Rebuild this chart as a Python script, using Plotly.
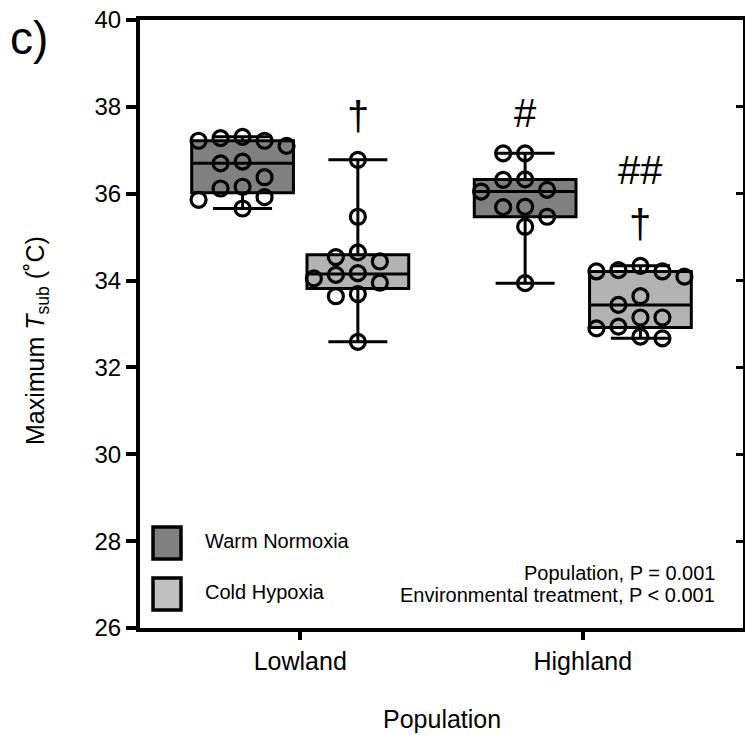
import numpy as np
import plotly.graph_objects as go

# Populations on the x axis and the two environmental treatments
populations = ["Lowland", "Highland"]
treatments = ["Warm Normoxia", "Cold Hypoxia"]

# Maximum Tsub (°C) per individual
lowland_warm = [37.22, 37.28, 37.10, 37.22, 37.31, 36.70, 36.74, 36.38,
                36.12, 36.16, 35.92, 35.86, 35.66]
lowland_cold = [36.78, 35.47, 34.65, 34.44, 34.54, 34.17, 34.13, 33.95,
                34.05, 33.69, 33.64, 32.59]
highland_warm = [36.93, 36.93, 36.32, 36.33, 36.09, 36.05, 35.70, 35.69,
                 35.47, 35.24, 33.94]
highland_cold = [34.21, 34.24, 34.09, 34.21, 34.34, 33.64, 33.44, 33.15,
                 33.15, 32.90, 32.94, 32.71, 32.67]

y_ticks = [26, 28, 30, 32, 34, 36, 38, 40]

# Significance markers: (population index, treatment index, symbol, y)
sig_marks = [(0, 1, "†", 37.80), (1, 0, "#", 37.85),
             (1, 1, "##", 36.55), (1, 1, "†", 35.30)]

stats_lines = ["Population, P = 0.001",
               "Environmental treatment, P &lt; 0.001"]

fill_colors = {"Warm Normoxia": "#808080", "Cold Hypoxia": "#b3b3b3"}
legend_colors = {"Warm Normoxia": "#808080", "Cold Hypoxia": "#c0c0c0"}

FONT = "Liberation Sans, Arial, sans-serif"
W, H = 746, 735
M_L, M_R, M_T, M_B = 140, 3, 20, 107
X_RANGE = [-0.567, 1.567]
Y_RANGE = [26, 40]
plot_w = W - M_L - M_R
plot_h = H - M_T - M_B
px_per_x = plot_w / (X_RANGE[1] - X_RANGE[0])
px_per_y = plot_h / (Y_RANGE[1] - Y_RANGE[0])

GROUP_OFFSET = 0.204   # treatment offset from the population tick
BOX_WIDTH = 0.36


def px_x(px):
    """Horizontal pixel position -> paper coordinate."""
    return (px - M_L) / plot_w


def px_y(px):
    """Vertical pixel position (from top) -> paper coordinate."""
    return (H - M_B - px) / plot_h


def swarm_offsets(values, step_px=22.0, min_px=17.0):
    """Column-based dot layout so that circles do not overlap."""
    vals = np.asarray(values, dtype=float)
    order = np.argsort(-vals, kind="stable")
    placed = []
    offs = np.zeros(len(vals))
    for i in order:
        v = vals[i]
        chosen = 0
        for cand in [0, -1, 1, -2, 2, -3, 3, -4, 4]:
            ok = all(((cand - c) * step_px) ** 2 + ((v - w) * px_per_y) ** 2
                     >= min_px ** 2 for c, w in placed)
            if ok:
                chosen = cand
                break
        placed.append((chosen, v))
        offs[i] = chosen * step_px / px_per_x
    return offs


groups = {
    (0, 0): lowland_warm,
    (0, 1): lowland_cold,
    (1, 0): highland_warm,
    (1, 1): highland_cold,
}

fig = go.Figure()

for (p, t), vals in groups.items():
    xc = p + (-GROUP_OFFSET if t == 0 else GROUP_OFFSET)
    name = treatments[t]
    fig.add_trace(go.Box(
        y=vals, x=[xc] * len(vals), width=BOX_WIDTH,
        boxpoints=False, quartilemethod="exclusive",
        fillcolor=fill_colors[name],
        line=dict(color="black", width=3),
        whiskerwidth=0.58, showlegend=False, hoverinfo="skip",
    ))

for (p, t), vals in groups.items():
    xc = p + (-GROUP_OFFSET if t == 0 else GROUP_OFFSET)
    offs = swarm_offsets(vals)
    fig.add_trace(go.Scatter(
        x=xc + offs, y=vals, mode="markers",
        marker=dict(symbol="circle-open", size=15, color="black",
                    line=dict(width=3.2, color="black")),
        showlegend=False, hoverinfo="skip",
    ))

# Empty trace so the right-hand axis is drawn
fig.add_trace(go.Scatter(x=[], y=[], yaxis="y2", showlegend=False))

annotations = []
for p, t, sym, yv in sig_marks:
    xc = p + (-GROUP_OFFSET if t == 0 else GROUP_OFFSET)
    annotations.append(dict(x=xc, y=yv, xref="x", yref="y", text=sym,
                            showarrow=False, xanchor="center",
                            yanchor="middle",
                            font=dict(family=FONT, size=40, color="black")))

annotations += [
    dict(text="c)", xref="paper", yref="paper", x=px_x(29), y=px_y(38),
         xanchor="center", yanchor="middle", showarrow=False,
         font=dict(family=FONT, size=46, color="black")),
    dict(text="Maximum <i>T</i><sub>sub</sub> (˚C)", xref="paper",
         yref="paper", x=px_x(37), y=px_y(341), textangle=-90,
         xanchor="center", yanchor="middle",
         showarrow=False, font=dict(family=FONT, size=25, color="black")),
    dict(text="Population", xref="paper", yref="paper", x=px_x(442),
         y=px_y(719), xanchor="center", yanchor="middle", showarrow=False,
         font=dict(family=FONT, size=25, color="black")),
]
for line, cy in zip(stats_lines, [573, 595]):
    annotations.append(dict(text=line, xref="paper", yref="paper",
                            x=px_x(717), y=px_y(cy), xanchor="right",
                            yanchor="middle", showarrow=False,
                            font=dict(family=FONT, size=20, color="black")))

# Legend swatches and labels
shapes = []
legend_rows = [(treatments[0], 527), (treatments[1], 578)]
for name, top in legend_rows:
    shapes.append(dict(type="rect", xref="paper", yref="paper",
                       x0=px_x(153), x1=px_x(181),
                       y0=px_y(top + 32), y1=px_y(top),
                       line=dict(color="black", width=3.5),
                       fillcolor=legend_colors[name]))
    annotations.append(dict(text=name, xref="paper", yref="paper",
                            x=px_x(203), y=px_y(top + 14),
                            xanchor="left", yanchor="middle",
                            showarrow=False,
                            font=dict(family=FONT, size=20, color="black")))

fig.update_layout(
    width=W, height=H,
    margin=dict(l=M_L, r=M_R, t=M_T, b=M_B),
    paper_bgcolor="white", plot_bgcolor="white",
    boxmode="overlay",
    font=dict(family=FONT, color="black"),
    xaxis=dict(range=X_RANGE, tickvals=[0, 1], ticktext=populations,
               showline=True, linewidth=4, linecolor="black", mirror=True,
               ticks="outside", ticklen=8, tickwidth=4, tickcolor="black",
               showgrid=False, zeroline=False,
               tickfont=dict(family=FONT, size=25, color="black")),
    yaxis=dict(range=Y_RANGE, tickvals=y_ticks,
               showline=True, linewidth=4, linecolor="black",
               ticks="outside", ticklen=10, tickwidth=4, tickcolor="black",
               showgrid=False, zeroline=False,
               tickfont=dict(family=FONT, size=24, color="black")),
    yaxis2=dict(range=Y_RANGE, overlaying="y", side="right",
                tickvals=y_ticks[1:-1], showticklabels=False,
                showline=True, linewidth=2, linecolor="black",
                ticks="inside", ticklen=7, tickwidth=3, tickcolor="black",
                showgrid=False, zeroline=False),
    annotations=annotations,
    shapes=shapes,
    showlegend=False,
)

fig.write_html("out.html")
